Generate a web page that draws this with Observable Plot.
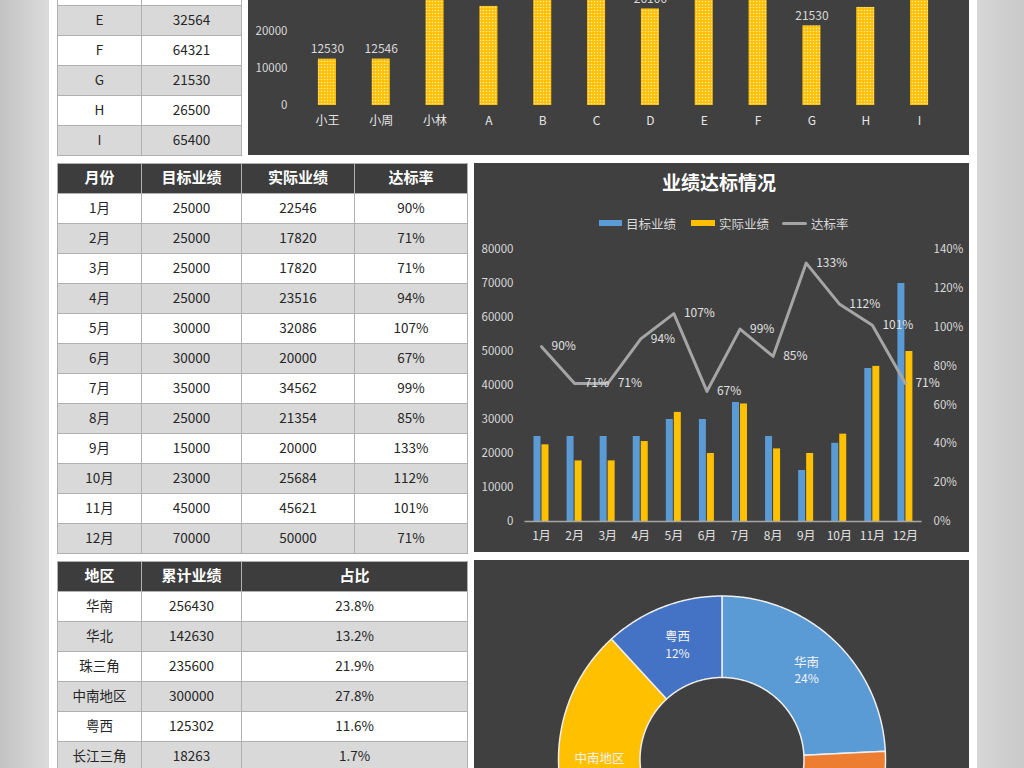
<!DOCTYPE html>
<html><head><meta charset="utf-8">
<script src="https://cdn.jsdelivr.net/npm/d3@7"></script>
<script src="https://cdn.jsdelivr.net/npm/@observablehq/plot@0.6"></script>
<style>
html,body{margin:0;padding:0;}
body{width:1024px;height:768px;overflow:hidden;position:relative;background:#fff;font-family:"Noto Sans CJK SC","Noto Sans",sans-serif;}
.side{position:absolute;top:0;height:768px;}
#leftbg{left:0;width:49px;background:linear-gradient(to right,#c2c2c2,#dcdcdc);}
#rightbg{left:977px;width:47px;background:linear-gradient(to right,#d6d6d6,#c9c9c9);}
.box{position:absolute;overflow:hidden;}
.panel{background:#404040;}
.box svg{position:absolute;left:0;}
table{border-collapse:collapse;position:absolute;left:0;table-layout:fixed;}
tr{height:30px;}
td,th{border:1px solid #b0b0b0;padding:0 0 4px 0;text-align:center;font-size:13.5px;color:#262626;box-sizing:border-box;line-height:20px;}
th{background:#3d3d3d;color:#fff;font-weight:bold;font-size:15px;}
tr.odd td{background:#d9d9d9;}
.ttl{position:absolute;color:#fff;font-weight:bold;font-size:19px;white-space:nowrap;transform:translate(-50%,-50%);}
.lg{position:absolute;color:#d9d9d9;font-size:12.5px;white-space:nowrap;transform:translateY(-50%);}
.sw{position:absolute;}
</style>
</head>
<body>
<div id="leftbg" class="side"></div>
<div id="rightbg" class="side"></div>

<div id="topTableBox" class="box" style="left:57px;top:0;width:185px;height:157px;"></div>
<div id="topChart" class="box panel" style="left:248px;top:0;width:721px;height:155px;"></div>

<div id="midTableBox" class="box" style="left:57px;top:163px;width:412px;height:392px;"></div>
<div id="midChart" class="box panel" style="left:474px;top:163px;width:495px;height:389px;"></div>

<div id="botTableBox" class="box" style="left:57px;top:561px;width:412px;height:207px;"></div>
<div id="botChart" class="box panel" style="left:474px;top:560px;width:495px;height:208px;"></div>

<script>
// ---------- data ----------
const topNames = ["小王","小周","小林","A","B","C","D","E","F","G","H","I"];
const topValues = [12530,12546,45000,26780,36000,52000,26100,32564,64321,21530,26500,65400];
const topTicks = [0,10000,20000];
const topYMax = 70000;

const months = ["1月","2月","3月","4月","5月","6月","7月","8月","9月","10月","11月","12月"];
const targets = [25000,25000,25000,25000,30000,30000,35000,25000,15000,23000,45000,70000];
const actuals = [22546,17820,17820,23516,32086,20000,34562,21354,20000,25684,45621,50000];
const rates = [90,71,71,94,107,67,99,85,133,112,101,71];
const leftTicks = [0,10000,20000,30000,40000,50000,60000,70000,80000];
const rightTicks = [0,20,40,60,80,100,120,140];

const regions = ["华南","华北","珠三角","中南地区","粤西","长江三角"];
const regionTotals = [256430,142630,235600,300000,125302,18263];
const regionShares = ["23.8%","13.2%","21.9%","27.8%","11.6%","1.7%"];
const donutRegions = ["华南","华北","珠三角","中南地区","粤西"];
const regionColors = ["#5B9BD5","#ED7D31","#A5A5A5","#FFC000","#4472C4"];

const FONT = '"Noto Sans CJK SC","Noto Sans",sans-serif';

// ---------- tables ----------
function makeTable(headers, rows, widths, firstIndex){
  const t = document.createElement("table");
  t.style.width = d3.sum(widths)+"px";
  const cg = document.createElement("colgroup");
  widths.forEach(w=>{const c=document.createElement("col");c.style.width=w+"px";cg.appendChild(c);});
  t.appendChild(cg);
  if(headers){
    const hr = document.createElement("tr");
    headers.forEach(h=>{const th=document.createElement("th");th.textContent=h;hr.appendChild(th);});
    t.appendChild(hr);
  }
  rows.forEach((r,i)=>{
    const tr=document.createElement("tr");
    if((i+(firstIndex||0))%2===1) tr.className="odd";
    r.forEach(v=>{const td=document.createElement("td");td.textContent=v;tr.appendChild(td);});
    t.appendChild(tr);
  });
  return t;
}
// top table: only the rows visible in the cropped view (D row shows just its bottom edge)
const firstVisible = topNames.indexOf("D");
const topRows = topNames.map((n,i)=>[n,topValues[i]]).slice(firstVisible).map((r,i)=> i===0 ? ["",""] : r);
const tt = makeTable(null, topRows, [84,100], firstVisible);
tt.style.top = (155 - topRows.length*30) + "px";
document.getElementById("topTableBox").appendChild(tt);

const mt = makeTable(["月份","目标业绩","实际业绩","达标率"], months.map((m,i)=>[m,targets[i],actuals[i],rates[i]+"%"]), [84,100,113,113], 0);
mt.style.top = "0px";
document.getElementById("midTableBox").appendChild(mt);

const bt = makeTable(["地区","累计业绩","占比"], regions.map((r,i)=>[r,regionTotals[i],regionShares[i]]), [84,100,226], 0);
bt.style.top = "0px";
document.getElementById("botTableBox").appendChild(bt);

// ---------- top bar chart ----------
const topData = topNames.map((n,i)=>({n, v:topValues[i]}));
const topSvg = Plot.plot({
  width:721, height:329, marginTop:20, marginBottom:50, marginLeft:52, marginRight:23,
  style:{background:"transparent", color:"#d9d9d9", fontFamily:FONT, fontSize:"11.5px"},
  x:{type:"band", domain:topNames, padding:0, round:false, axis:null},
  y:{domain:[0,topYMax], axis:null},
  marks:[
    Plot.barY(topData,{x:"n", y:"v", fill:"url(#dots)", insetLeft:17.9, insetRight:17.9}),
    // value labels (those of the taller bars fall outside the cropped view)
    Plot.text(topData.filter(d=>d.v<26300),{x:"n", y:"v", text:d=>String(d.v), dy:-6, lineAnchor:"bottom", fill:"#d9d9d9", fontSize:12}),
    Plot.axisX({tickSize:0, tickPadding:11, fill:"#e6e6e6", fontSize:12, label:null}),
    Plot.axisY(topTicks,{tickSize:0, tickPadding:13, label:null, fill:"#d9d9d9", tickFormat:d=>String(d)})
  ]
});
const defs = d3.select(topSvg).insert("defs",":first-child");
const pat = defs.append("pattern").attr("id","dots").attr("patternUnits","userSpaceOnUse").attr("width",3).attr("height",3);
pat.append("rect").attr("width",3).attr("height",3).attr("fill","#FFC000");
pat.append("circle").attr("cx",1.5).attr("cy",1.5).attr("r",0.8).attr("fill","#ffe9a6");
topSvg.style.top = "-174px";
document.getElementById("topChart").appendChild(topSvg);

// ---------- middle combo chart ----------
const scaleR = 80000/140;
const monthData = months.map((m,i)=>({m, t:targets[i], a:actuals[i], r:rates[i]}));
const midSvg = Plot.plot({
  width:495, height:389, marginTop:86, marginBottom:31, marginLeft:50.5, marginRight:47.5,
  style:{background:"transparent", color:"#d9d9d9", fontFamily:FONT, fontSize:"11.5px"},
  x:{type:"band", domain:months, padding:0, round:false, axis:null},
  y:{domain:[0,80000], axis:null},
  marks:[
    Plot.barY(monthData,{x:"m", y:"t", fill:"#5B9BD5", insetLeft:9, insetRight:17.1}),
    Plot.barY(monthData,{x:"m", y:"a", fill:"#FFC000", insetLeft:17, insetRight:9.1}),
    Plot.ruleY([0],{stroke:"#a6a6a6", strokeWidth:1.5}),
    Plot.line(monthData,{x:"m", y:d=>d.r*scaleR, stroke:"#a5a5a5", strokeWidth:3, strokeLinejoin:"round"}),
    Plot.text(monthData,{x:"m", y:d=>d.r*scaleR, text:d=>d.r+"%", dx:10, textAnchor:"start", fill:"#e0e0e0", fontSize:12}),
    Plot.axisX({tickSize:0, tickPadding:10, fill:"#e0e0e0", fontSize:12, label:null}),
    Plot.axisY(leftTicks,{anchor:"left", tickSize:0, tickPadding:11.5, label:null, fill:"#d9d9d9", tickFormat:d=>String(d)}),
    Plot.axisY(rightTicks.map(v=>v*scaleR),{anchor:"right", tickSize:0, tickPadding:11.5, label:null, fill:"#d9d9d9", tickFormat:d=>Math.round(d/scaleR)+"%"})
  ]
});
midSvg.style.top = "0px";
const midBox = document.getElementById("midChart");
midBox.appendChild(midSvg);
function addEl(cls, html, x, y, style){
  const d=document.createElement("div"); d.className=cls; d.innerHTML=html;
  d.style.left=x+"px"; d.style.top=y+"px"; if(style) Object.assign(d.style, style); midBox.appendChild(d); return d;
}
addEl("ttl","业绩达标情况", 719-474, 181-163);
const legendItems = [
  {label:"目标业绩", color:"#5B9BD5", x:599, w:23, h:6},
  {label:"实际业绩", color:"#FFC000", x:691, w:24, h:6},
  {label:"达标率", color:"#a5a5a5", x:782, w:25, h:3}
];
legendItems.forEach(it=>{
  addEl("sw","", it.x-474, 223-163-it.h/2, {width:it.w+"px", height:it.h+"px", background:it.color, borderRadius: it.h<5?"2px":"0"});
  addEl("lg", it.label, it.x-474+it.w+4, 223-163);
});

// ---------- donut ----------
const donutValues = regionTotals.slice(0,5);
const totalD = d3.sum(donutValues);
const arcs = d3.pie().sort(null).value(d=>d)(donutValues);
const R1 = 1, R0 = 82/163.5;
const ringPts = [];
const labelData = [];
arcs.forEach((p,i)=>{
  const n = Math.max(2, Math.ceil((p.endAngle-p.startAngle)/0.01));
  const ring = [];
  for(let k=0;k<=n;k++){const a=p.startAngle+(p.endAngle-p.startAngle)*k/n; ring.push([Math.sin(a)*R1, Math.cos(a)*R1]);}
  for(let k=n;k>=0;k--){const a=p.startAngle+(p.endAngle-p.startAngle)*k/n; ring.push([Math.sin(a)*R0, Math.cos(a)*R0]);}
  ring.push(ring[0]);
  ring.forEach(([x,y])=>ringPts.push({name:donutRegions[i], x, y}));
  const mid=(p.startAngle+p.endAngle)/2, rm=(R0+R1)/2;
  labelData.push({x:Math.sin(mid)*rm, y:Math.cos(mid)*rm, name:donutRegions[i], pct:Math.round(donutValues[i]/totalD*100)+"%"});
});
// only labels whose slice centre lies in the visible (upper) part of the crop
const visLabels = labelData.filter(d=>d.y > -0.1);
const botSvg = Plot.plot({
  width:495, height:398, margin:0,
  style:{background:"transparent", fontFamily:FONT},
  x:{domain:[-247.5/163.5, 247.5/163.5], axis:null},
  y:{domain:[-199/163.5, 199/163.5], axis:null},
  color:{domain:donutRegions, range:regionColors},
  marks:[
    Plot.line(ringPts,{x:"x", y:"y", z:"name", fill:"name", stroke:"#eeeeee", strokeWidth:1.5, strokeLinejoin:"miter"}),
    Plot.text(visLabels,{x:"x", y:"y", text:"name", dy:-8, fill:"#f2f2f2", fontSize:12.5}),
    Plot.text(visLabels,{x:"x", y:"y", text:"pct", dy:9, fill:"#f2f2f2", fontSize:12})
  ]
});
botSvg.style.top = "0px";
document.getElementById("botChart").appendChild(botSvg);
</script>
</body></html>
